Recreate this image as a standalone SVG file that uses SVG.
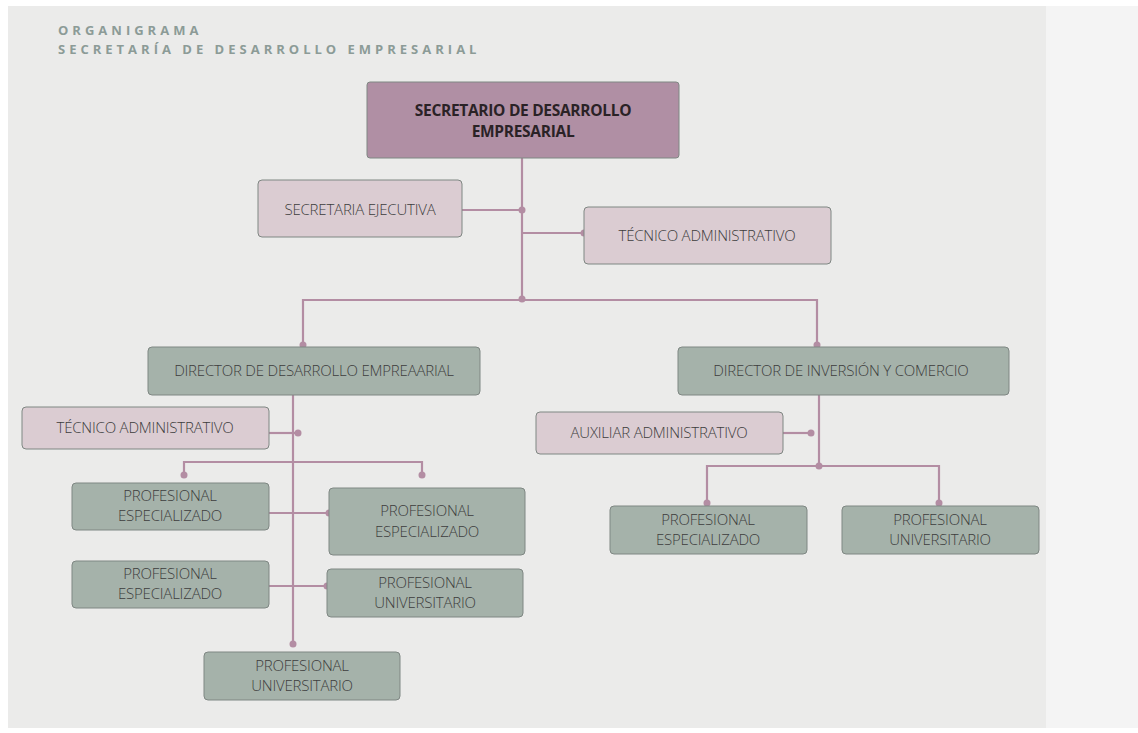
<svg xmlns="http://www.w3.org/2000/svg" width="1138" height="733" viewBox="0 0 1138 733">
<style>
.bg{fill:#ebebea}
.n rect{stroke:#7f8783;stroke-width:1}
.top rect{fill:#b08fa4}
.pk rect{fill:#dbccd2}
.gr rect{fill:#a5b2aa}
.n text{font-family:"Open Sans","Liberation Sans",sans-serif;font-size:15px;fill:#3d3d3d;text-anchor:middle;font-weight:300;letter-spacing:-0.2px}
.top text{font-weight:700;fill:#2a2226;font-size:15.5px;letter-spacing:-0.3px}
.c path{fill:none;stroke:#b38da3;stroke-width:2.2}
.c circle{fill:#b38da3}
.t{font-family:"Open Sans","Liberation Sans",sans-serif;font-size:13px;font-weight:700;fill:#8c9b97;letter-spacing:4px}
</style>
<rect width="1138" height="733" fill="#ffffff"/>
<rect x="8" y="6" width="1038" height="722" class="bg"/>
<rect x="1046" y="6" width="92" height="722" fill="#f4f4f4"/>
<text class="t" x="58" y="35">ORGANIGRAMA</text>
<text class="t" x="58" y="54">SECRETARÍA DE DESARROLLO EMPRESARIAL</text>
<g class="c" id="connectors">
<path d="M522 158V299"/>
<path d="M462 210H522"/>
<path d="M522 233H584"/>
<path d="M522 300H303V345M522 300H817V345"/>
<path d="M293 395V644"/>
<path d="M269 433H298"/>
<path d="M184 475V462H422V475"/>
<path d="M269 513H329"/>
<path d="M269 586H327"/>
<path d="M819 395V466"/>
<path d="M783 433H811"/>
<path d="M707 503V466H939V503"/>
<circle cx="522" cy="210" r="3.5"/>
<circle cx="522" cy="299" r="3.5"/>
<circle cx="584" cy="233" r="3.5"/>
<circle cx="303" cy="345" r="3.5"/>
<circle cx="817" cy="345" r="3.5"/>
<circle cx="298" cy="433" r="3.5"/>
<circle cx="184" cy="475" r="3.5"/>
<circle cx="422" cy="475" r="3.5"/>
<circle cx="329" cy="513" r="3.5"/>
<circle cx="327" cy="586" r="3.5"/>
<circle cx="293" cy="644" r="3.5"/>
<circle cx="811" cy="433" r="3.5"/>
<circle cx="819" cy="466" r="3.5"/>
<circle cx="707" cy="503" r="3.5"/>
<circle cx="939" cy="503" r="3.5"/>
</g>
<g class="n top" id="secretario"><rect x="367" y="82" width="312" height="76" rx="3"/><text x="523" y="116">SECRETARIO DE DESARROLLO</text><text x="523" y="137">EMPRESARIAL</text></g>
<g class="n pk" id="secretaria"><rect x="258" y="180" width="204" height="57" rx="4"/><text x="360" y="215">SECRETARIA EJECUTIVA</text></g>
<g class="n pk" id="tecnico1"><rect x="584" y="207" width="247" height="57" rx="4"/><text x="707" y="241">TÉCNICO ADMINISTRATIVO</text></g>
<g class="n gr" id="dir-desarrollo"><rect x="148" y="347" width="332" height="48" rx="4"/><text x="314" y="376">DIRECTOR DE DESARROLLO EMPREAARIAL</text></g>
<g class="n gr" id="dir-inversion"><rect x="678" y="347" width="331" height="48" rx="4"/><text x="841" y="376">DIRECTOR DE INVERSIÓN Y COMERCIO</text></g>
<g class="n pk" id="tecnico2"><rect x="22" y="407" width="247" height="42" rx="4"/><text x="145" y="433">TÉCNICO ADMINISTRATIVO</text></g>
<g class="n pk" id="auxiliar"><rect x="536" y="412" width="247" height="42" rx="4"/><text x="659" y="438">AUXILIAR ADMINISTRATIVO</text></g>
<g class="n gr" id="pe1"><rect x="72" y="483" width="197" height="47" rx="4"/><text x="170" y="501">PROFESIONAL</text><text x="170" y="521">ESPECIALIZADO</text></g>
<g class="n gr" id="pe2"><rect x="329" y="488" width="196" height="67" rx="4"/><text x="427" y="516">PROFESIONAL</text><text x="427" y="537">ESPECIALIZADO</text></g>
<g class="n gr" id="pe3"><rect x="72" y="561" width="197" height="47" rx="4"/><text x="170" y="579">PROFESIONAL</text><text x="170" y="599">ESPECIALIZADO</text></g>
<g class="n gr" id="pu1"><rect x="327" y="569" width="196" height="48" rx="4"/><text x="425" y="588">PROFESIONAL</text><text x="425" y="608">UNIVERSITARIO</text></g>
<g class="n gr" id="pu2"><rect x="204" y="652" width="196" height="48" rx="4"/><text x="302" y="671">PROFESIONAL</text><text x="302" y="691">UNIVERSITARIO</text></g>
<g class="n gr" id="pe4"><rect x="610" y="506" width="197" height="48" rx="4"/><text x="708" y="525">PROFESIONAL</text><text x="708" y="545">ESPECIALIZADO</text></g>
<g class="n gr" id="pu3"><rect x="842" y="506" width="197" height="48" rx="4"/><text x="940" y="525">PROFESIONAL</text><text x="940" y="545">UNIVERSITARIO</text></g>
</svg>
